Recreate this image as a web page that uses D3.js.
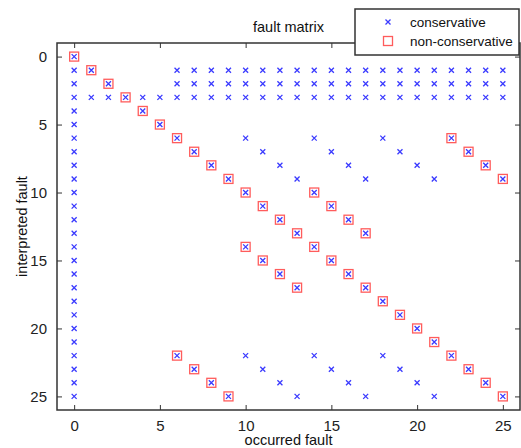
<!DOCTYPE html>
<html>
<head>
<meta charset="utf-8">
<script src="https://cdn.jsdelivr.net/npm/d3@7"></script>
<style>
  body { margin: 0; background: #fff; }
  svg { font-family: "Liberation Sans", Arial, sans-serif; }
</style>
</head>
<body>
<div id="chart" style="width:521px;height:448px"></div>
<script>
// interpreted fault (row) -> occurred faults (x) marked conservative
const conservativeRows = [
    [0],
    [0, 1, 6, 7, 8, 9, 10, 11, 12, 13, 14, 15, 16, 17, 18, 19, 20, 21, 22, 23, 24, 25],
    [0, 2, 6, 7, 8, 9, 10, 11, 12, 13, 14, 15, 16, 17, 18, 19, 20, 21, 22, 23, 24, 25],
    [0, 1, 2, 3, 4, 5, 6, 7, 8, 9, 10, 11, 12, 13, 14, 15, 16, 17, 18, 19, 20, 21, 22, 23, 24, 25],
    [0, 4],
    [0, 5],
    [0, 6, 10, 14, 18, 22],
    [0, 7, 11, 15, 19, 23],
    [0, 8, 12, 16, 20, 24],
    [0, 9, 13, 17, 21, 25],
    [0, 10, 14],
    [0, 11, 15],
    [0, 12, 16],
    [0, 13, 17],
    [0, 10, 14],
    [0, 11, 15],
    [0, 12, 16],
    [0, 13, 17],
    [0, 18],
    [0, 19],
    [0, 20],
    [0, 21],
    [0, 6, 10, 14, 18, 22],
    [0, 7, 11, 15, 19, 23],
    [0, 8, 12, 16, 20, 24],
    [0, 9, 13, 17, 21, 25]
];

// interpreted fault (row) -> occurred faults (x) marked non-conservative
const nonConservativeRows = [
    [0], [1], [2], [3], [4], [5],
    [6, 22], [7, 23], [8, 24], [9, 25],
    [10, 14], [11, 15], [12, 16], [13, 17],
    [10, 14], [11, 15], [12, 16], [13, 17],
    [18], [19], [20], [21],
    [6, 22], [7, 23], [8, 24], [9, 25]
];

const xTicks = [0, 5, 10, 15, 20, 25];
const yTicks = [0, 5, 10, 15, 20, 25];
const legendLabels = ["conservative", "non-conservative"];

const width = 521, height = 448;
const margin = { top: 43, right: 1, bottom: 38, left: 57 };
const frame = "#333";

const toPoints = rows => rows.flatMap((xs, y) => xs.map(x => ({ x, y })));
const consPts = toPoints(conservativeRows);
const nonPts = toPoints(nonConservativeRows);

const svg = d3.select("#chart").append("svg")
    .attr("width", width)
    .attr("height", height);

const x = d3.scaleLinear().domain([-1, 26]).range([margin.left, width - margin.right]);
const y = d3.scaleLinear().domain([-1, 26]).range([margin.top, height - margin.bottom]);

const x0 = margin.left, x1 = width - margin.right;
const y0 = margin.top, y1 = height - margin.bottom;

// axes with inward ticks (MATLAB style)
function styleAxis(g) {
    g.select(".domain").remove();
    g.selectAll(".tick line").attr("stroke", frame).attr("stroke-width", 1);
    g.selectAll(".tick text").attr("fill", "#222").style("font-size", "15px");
}

svg.append("g")
    .attr("transform", `translate(0,${y1})`)
    .call(d3.axisBottom(x).tickValues(xTicks).tickSize(-5).tickPadding(10))
    .call(styleAxis);
svg.append("g")
    .attr("transform", `translate(0,${y0})`)
    .call(d3.axisTop(x).tickValues(xTicks).tickSize(-5).tickFormat(""))
    .call(styleAxis);
svg.append("g")
    .attr("transform", `translate(${x0},0)`)
    .call(d3.axisLeft(y).tickValues(yTicks).tickSize(-5).tickPadding(10))
    .call(styleAxis);
svg.append("g")
    .attr("transform", `translate(${x1},0)`)
    .call(d3.axisRight(y).tickValues(yTicks).tickSize(-5).tickFormat(""))
    .call(styleAxis);

svg.append("rect")
    .attr("x", x0).attr("y", y0)
    .attr("width", x1 - x0).attr("height", y1 - y0)
    .attr("fill", "none")
    .attr("stroke", frame)
    .attr("stroke-width", 1.5);

const blue = "#3a3aff", red = "#ff4a4a";
const sq = 9, cr = 2.5;

function cross(g, cx, cy) {
    g.append("path")
        .attr("d", `M${cx - cr},${cy - cr}L${cx + cr},${cy + cr}M${cx - cr},${cy + cr}L${cx + cr},${cy - cr}`)
        .attr("stroke", blue)
        .attr("stroke-width", 1.3)
        .attr("fill", "none");
}
function square(g, cx, cy) {
    g.append("rect")
        .attr("x", cx - sq / 2).attr("y", cy - sq / 2)
        .attr("width", sq).attr("height", sq)
        .attr("fill", "none")
        .attr("stroke", red)
        .attr("stroke-width", 1.3)
        .attr("stroke-opacity", 0.9);
}

const marks = svg.append("g");
nonPts.forEach(d => square(marks, x(d.x), y(d.y)));
consPts.forEach(d => cross(marks, x(d.x), y(d.y)));

// title and labels
svg.append("text")
    .attr("x", (x0 + x1) / 2).attr("y", 32)
    .attr("text-anchor", "middle")
    .style("font-size", "14.5px")
    .attr("fill", "#111")
    .text("fault matrix");

svg.append("text")
    .attr("x", (x0 + x1) / 2).attr("y", 445)
    .attr("text-anchor", "middle")
    .style("font-size", "14.5px")
    .attr("fill", "#111")
    .text("occurred fault");

svg.append("text")
    .attr("transform", `translate(27,${(y0 + y1) / 2}) rotate(-90)`)
    .attr("text-anchor", "middle")
    .style("font-size", "14.5px")
    .attr("fill", "#111")
    .text("interpreted fault");

// legend
const legend = svg.append("g");
legend.append("rect")
    .attr("x", 355).attr("y", 9)
    .attr("width", 164).attr("height", 46)
    .attr("fill", "#fff")
    .attr("stroke", frame)
    .attr("stroke-width", 1.5);

legendLabels.forEach((label, i) => {
    const ly = 22 + i * 19;
    if (i === 0) cross(legend, 388, ly);
    else square(legend, 388, ly);
    legend.append("text")
        .attr("x", 410).attr("y", ly + 5)
        .style("font-size", "13.5px")
        .attr("fill", "#111")
        .text(label);
});
</script>
</body>
</html>
